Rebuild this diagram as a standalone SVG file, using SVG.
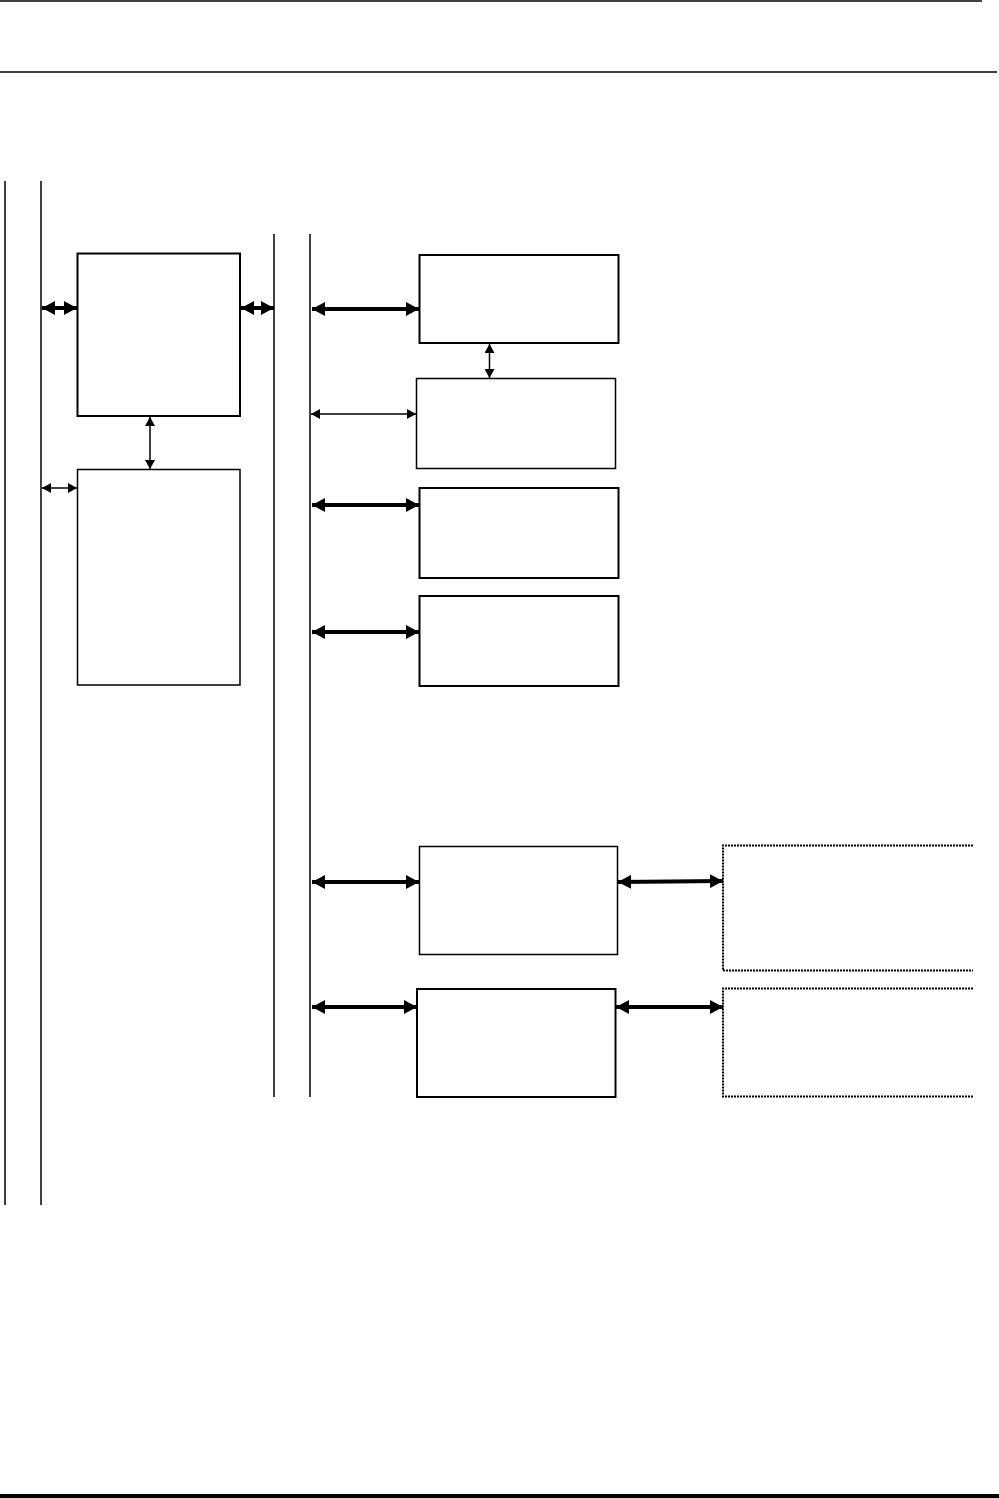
<svg xmlns="http://www.w3.org/2000/svg" width="999" height="1498" viewBox="0 0 999 1498">
<style>
.box{fill:#fff;stroke:#000;stroke-width:2}
.thin{fill:#fff;stroke:#000;stroke-width:1.5}
.dot{fill:none;stroke:#000;stroke-width:2;stroke-dasharray:2 1}
.bus{stroke:#000;stroke-width:1.5;fill:none}
.ta{stroke:#000;stroke-width:4;fill:none;marker-start:url(#hT);marker-end:url(#hT)}
.na{stroke:#000;stroke-width:1.5;fill:none;marker-start:url(#hN);marker-end:url(#hN)}
</style>
<defs>
<marker id="hT" markerUnits="userSpaceOnUse" markerWidth="13" markerHeight="14" refX="13" refY="7" orient="auto-start-reverse" viewBox="0 0 13 14"><path d="M0,0 L13,7 L0,14 z" fill="#000"/></marker>
<marker id="hN" markerUnits="userSpaceOnUse" markerWidth="9" markerHeight="10" refX="9" refY="5" orient="auto-start-reverse" viewBox="0 0 9 10"><path d="M0,0 L9,5 L0,10 z" fill="#000"/></marker>
</defs>
<rect width="999" height="1498" fill="#fff"/>
<g id="page-rules">
<line x1="0" y1="1" x2="982" y2="1" stroke="#000" stroke-width="1.5"/>
<line x1="0" y1="72" x2="997" y2="72" stroke="#000" stroke-width="1.5"/>
<rect x="0" y="1494" width="999" height="4" fill="#000"/>
</g>
<g id="buses">
<line class="bus" x1="5" y1="181" x2="5" y2="1205"/>
<line class="bus" x1="41" y1="181" x2="41" y2="1205"/>
<line class="bus" x1="274" y1="234" x2="274" y2="1097"/>
<line class="bus" x1="310" y1="234" x2="310" y2="1097"/>
</g>
<g id="nodeA"><rect class="box" x="77.5" y="253.5" width="162.5" height="162.5"/></g>
<g id="nodeB"><rect class="thin" x="77.5" y="469.5" width="162.5" height="215.5"/></g>
<g id="nodeC"><rect class="box" x="419.5" y="255" width="199" height="88"/></g>
<g id="nodeD"><rect class="thin" x="416.5" y="378.5" width="199" height="90"/></g>
<g id="nodeE"><rect class="box" x="419.5" y="488" width="199" height="90"/></g>
<g id="nodeF"><rect class="box" x="419.5" y="596" width="199" height="90"/></g>
<g id="nodeG"><rect class="thin" x="419.5" y="846.5" width="198" height="108"/></g>
<g id="nodeH"><rect class="box" x="417" y="989" width="198.5" height="108"/></g>
<g id="nodeI"><path class="dot" d="M973,845.5 H723 V970.5 H973"/></g>
<g id="nodeJ"><path class="dot" d="M973,988.5 H723 V1096.5 H973"/></g>
<g id="connectors">
<line class="ta" x1="42" y1="308" x2="77" y2="308"/>
<line class="ta" x1="241" y1="308" x2="274" y2="308"/>
<line class="na" x1="42" y1="488" x2="77" y2="488"/>
<line class="na" x1="150" y1="417" x2="150" y2="469"/>
<line class="ta" x1="312" y1="309" x2="419" y2="309"/>
<line class="na" x1="311" y1="414" x2="416" y2="414"/>
<line class="na" x1="489.5" y1="344" x2="489.5" y2="378"/>
<line class="ta" x1="312" y1="505" x2="419" y2="505"/>
<line class="ta" x1="312" y1="632" x2="419" y2="632"/>
<line class="ta" x1="312" y1="882" x2="419" y2="882"/>
<line class="ta" x1="312" y1="1007" x2="417" y2="1007"/>
<line class="ta" x1="618" y1="882" x2="723" y2="881"/>
<line class="ta" x1="616" y1="1007" x2="723" y2="1007"/>
</g>
</svg>
